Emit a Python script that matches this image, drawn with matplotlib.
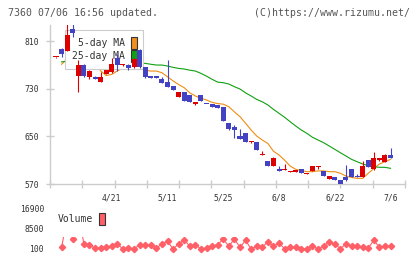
import numpy as np
import matplotlib
matplotlib.use("Agg")
import matplotlib.pyplot as plt
from matplotlib.patches import Patch, Rectangle

plt.rcParams['font.family'] = 'DejaVu Sans Mono'

#********************** data (4/7 .. 7/6) **********************
dates = ["4/21", "5/11", "5/25", "6/8", "6/22", "7/6"]
date_idx = [10, 20, 30, 40, 50, 60]

opens = [782.5, 797, 794, 830, 751, 770, 750, 750, 742, 755,
         758, 782, 769, 769, 766, 795, 766, 751, 751, 746,
         741, 735, 716.5, 725, 719, 705, 719, 705, 705, 702,
         700, 673, 666, 650, 656, 641, 641, 618, 609, 601,
         596, 593, 590, 590, 595, 587, 592, 599, 591, 579,
         581, 576, 582, 595, 584, 582, 610, 596, 611, 607, 619]
highs = [784, 798, 845, 845, 778, 771, 762, 751, 758, 762,
         781, 789, 771, 771, 781, 796, 767, 751, 751, 750,
         778, 735, 725, 725, 719, 708, 719, 705, 705, 702,
         700, 673, 669, 662, 656, 643, 641, 625, 609, 615,
         600, 604, 592, 593, 595, 589, 600, 600, 591, 583,
         581, 576, 602, 595, 587, 609, 610, 623, 613, 620, 630]
lows = [782, 783, 794, 817, 725, 750, 747, 746, 742, 754,
        757, 759, 768, 762, 765, 765, 748, 748, 748, 739,
        733, 727, 716, 710, 708, 703, 710, 703.5, 700, 698,
        675, 660, 648, 645, 641, 639, 627, 618, 601, 601,
        592, 593, 590, 589.5, 588, 587, 592, 596, 584, 579,
        577, 570, 575, 581, 581, 582, 599, 594, 608, 607, 613]
closes = [783.5, 788, 820, 824, 770, 751, 760, 747, 749, 761,
          772, 769, 770, 764, 779, 766, 749, 748, 748, 739,
          733, 728, 725, 710, 708, 708, 710, 704, 700, 698,
          676, 662, 660, 645, 641, 643, 627, 619, 601, 614,
          592, 594, 592, 593, 588, 589, 600, 600, 584, 583,
          577, 570, 576, 581, 581, 600, 599, 613, 612, 619, 613]

ma5 = [np.nan, 771, 780, 790, 795, 790, 785, 775, 760, 752,
       754, 760, 764, 766, 768, 765, 761, 759.6, 759.6, 756.8,
       750, 743, 737, 731.6, 723, 717.7, 714, 711, 707, 705,
       704, 699.7, 691, 683, 672, 660.6, 650.5, 643.8, 638, 625,
       618.7, 610, 600, 594.6, 592.5, 590.7, 590.7, 592, 592, 590.7,
       590.7, 588, 583.4, 581, 579.5, 579.5, 588, 596, 603.6, 607.4, 611.4]
ma25 = [np.nan, 775, 776, 777, 778, 778, 778, 777, 777, 776,
        776, 775, 775, 774, 774, 773, 772.5, 771, 769.7, 769.7,
        768, 765.8, 764, 763, 761, 759.6, 755.7, 751, 745.7, 741,
        740, 737.8, 733.3, 729.4, 723, 717.7, 712, 708, 702.6, 695.3,
        688.6, 682, 674.5, 667.3, 660.6, 655, 648.4, 643.8, 639.3, 633.8,
        628.2, 622.5, 617, 611.4, 607.4, 603.6, 600.7, 599, 598, 598, 596.3]

volume = [np.nan, 800, 13000, 4430, 16000, 2200, 1650, 520, 520, 940,
          1230, 2200, 100, 520, 100, 1900, 1650, 1900, 520, 2200,
          3330, 100, 2200, 4000, 1230, 1900, 100, 520, 1230, 1900,
          4300, 1230, 4300, 800, 3750, 100, 1230, 940, 3040, 1230,
          2620, 230, 800, 800, 100, 100, 1230, 100, 1230, 3040,
          2200, 230, 2200, 1230, 1230, 800, 520, 3750, 800, 1230, 1230]

price_ticks = [570, 650, 730, 810]
volume_ticks = [100, 8500, 16900]

#********************** figure **********************
fig = plt.figure(figsize=(4.2, 2.59), dpi=100)
x = np.arange(len(closes))
xlim = (-1.076, 62.59)

fig.text(8/420, 1 - 12.5/259, "7360 07/06 16:56 updated.", fontsize=7.1,
         color='#555555', va='center')
fig.text(410/420, 1 - 12.5/259, "(C)https://www.rizumu.net/", fontsize=7.1,
         color='#555555', va='center', ha='right')

#********************** candles + moving averages **********************
ax1 = fig.add_axes([50/420, 75/259, 355/420, 159/259])
ax1.set_xlim(xlim)
ax1.set_ylim(570, 836.9)

o = np.array(opens)
c = np.array(closes)
up = c >= o
cols = np.where(up, '#dd0000', '#4242c2')
body_lo = np.minimum(o, c)
body_h = np.maximum(np.abs(c - o), 2)

ax1.plot(x, ma5, color='#f08c10', lw=0.8, zorder=2)
ax1.plot(x, ma25, color='#10a010', lw=0.8, zorder=2)
ax1.vlines(x, lows, highs, colors=cols, lw=0.8, zorder=4)
ax1.bar(x, body_h, bottom=body_lo, width=0.9, color=cols, lw=0, zorder=4)

ma_handles = [Patch(fc='#f0901c', ec='#333333', lw=0.8),
              Patch(fc='#10a010', ec='#333333', lw=0.8)]
leg = ax1.legend(ma_handles, ['5-day MA', '25-day MA'], loc='upper left',
                 bbox_to_anchor=(15/355, 154/159), borderaxespad=0,
                 markerfirst=False, handlelength=0.62, handleheight=1.55,
                 handletextpad=0.6, labelspacing=0.1, borderpad=0.7,
                 fancybox=False, edgecolor='#cccccc', framealpha=1,
                 fontsize=7, labelcolor='#333333')
leg.get_frame().set_linewidth(0.8)
leg.set_zorder(3)

for s in ['top', 'right']:
    ax1.spines[s].set_visible(False)
for s in ['left', 'bottom']:
    ax1.spines[s].set_color('#cccccc')
    ax1.spines[s].set_linewidth(1.0)

ax1.set_yticks(price_ticks)
ax1.tick_params(axis='y', direction='inout', length=6, width=1, color='#cccccc',
                pad=5, labelsize=5.8, labelcolor='#333333')
ax1.set_xticks(date_idx, dates)
ax1.set_xticks(np.linspace(xlim[0], xlim[1], 12), minor=True)
ax1.tick_params(axis='x', which='major', length=0, pad=7, labelsize=5.8,
                labelcolor='#333333')
ax1.tick_params(axis='x', which='minor', direction='inout', length=5.5,
                width=1, color='#cccccc')

#********************** volume **********************
ax2 = fig.add_axes([50/420, 6/259, 355/420, 48/259])
ax2.set_xlim(xlim)
ax2.set_ylim(-1580, 18580)
for s in ax2.spines.values():
    s.set_visible(False)
ax2.set_xticks([])
ax2.set_yticks(volume_ticks)
ax2.tick_params(axis='y', length=0, pad=4.3, labelsize=5.8, labelcolor='#333333')

vline, = ax2.plot(x, volume, color='#ff6068', lw=0.8, marker='D', ms=3.2,
                  mec='#ff6068', mfc='#ff6068')
clip = Rectangle((0, 0), 1, 16/48, transform=ax2.transAxes)
vline.set_clip_path(clip)

ax2.legend([Patch(fc='#ff6068', ec='#333333', lw=0.8)], ['Volume'],
           loc='upper left', bbox_to_anchor=(8/355, 40/48), borderaxespad=0,
           borderpad=0, markerfirst=False, frameon=False, handlelength=0.62,
           handleheight=1.55, handletextpad=0.6, fontsize=7,
           labelcolor='#333333')

fig.savefig('out.png', dpi=100)
